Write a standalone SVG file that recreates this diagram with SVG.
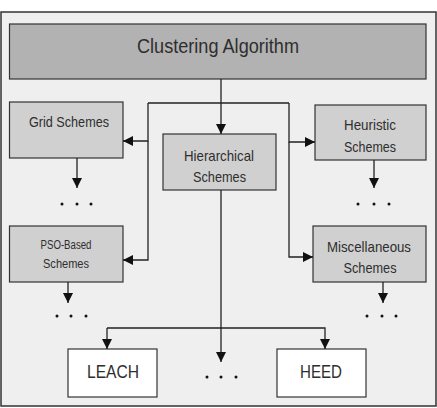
<svg xmlns="http://www.w3.org/2000/svg" width="437" height="408" viewBox="0 0 437 408">
<defs>
<marker id="ah" viewBox="0 0 10 10" refX="10" refY="5" markerWidth="10" markerHeight="10" markerUnits="userSpaceOnUse" orient="auto">
<path d="M0,0 L10,5 L0,10 Z" fill="#111"/>
</marker>
</defs>
<style>
.box{stroke:#333;stroke-width:1.2}
.dark{fill:#b2b2b2}
.mid{fill:#d0d0d0}
.white{fill:#fff}
text{font-family:"Liberation Sans",Arial,sans-serif;fill:#2e2e2e;text-anchor:middle}
.t14{font-size:15px}
.t11{font-size:12px}
.ln{stroke:#222;stroke-width:1.3;fill:none}
.arr{marker-end:url(#ah)}
.dot{fill:#111}
</style>
<rect x="1" y="12" width="435" height="394" fill="#efefef" stroke="#333" stroke-width="1.5"/>
<g id="clustering">
<rect class="box dark" x="9.5" y="24" width="416.5" height="55"/>
<text x="218" y="53" font-size="21" textLength="162" lengthAdjust="spacingAndGlyphs">Clustering Algorithm</text>
</g>
<g id="grid">
<rect class="box mid" x="9.5" y="102" width="113.5" height="56"/>
<text class="t14" x="69" y="127" textLength="80" lengthAdjust="spacingAndGlyphs">Grid Schemes</text>
</g>
<g id="heuristic">
<rect class="box mid" x="315" y="105" width="111" height="55"/>
<text class="t14" x="370" y="130" textLength="52" lengthAdjust="spacingAndGlyphs">Heuristic</text>
<text class="t14" x="370" y="152" textLength="52" lengthAdjust="spacingAndGlyphs">Schemes</text>
</g>
<g id="hierarchical">
<rect class="box mid" x="163" y="134" width="113" height="56"/>
<text class="t14" x="219" y="161" textLength="70" lengthAdjust="spacingAndGlyphs">Hierarchical</text>
<text class="t14" x="219.5" y="182" textLength="53" lengthAdjust="spacingAndGlyphs">Schemes</text>
</g>
<g id="pso">
<rect class="box mid" x="9.5" y="226" width="113.5" height="56"/>
<text class="t11" x="66" y="249" textLength="51" lengthAdjust="spacingAndGlyphs">PSO-Based</text>
<text class="t11" x="66" y="268" textLength="46" lengthAdjust="spacingAndGlyphs">Schemes</text>
</g>
<g id="misc">
<rect class="box mid" x="313" y="226" width="113" height="56"/>
<text class="t14" x="369" y="252" textLength="84" lengthAdjust="spacingAndGlyphs">Miscellaneous</text>
<text class="t14" x="370" y="273" textLength="53" lengthAdjust="spacingAndGlyphs">Schemes</text>
</g>
<g id="leach">
<rect class="box white" x="68" y="349" width="89" height="48"/>
<text x="113" y="378" font-size="19" textLength="52" lengthAdjust="spacingAndGlyphs">LEACH</text>
</g>
<g id="heed">
<rect class="box white" x="277" y="349" width="89" height="48"/>
<text x="321" y="378" font-size="19" textLength="42" lengthAdjust="spacingAndGlyphs">HEED</text>
</g>
<g id="connectors">
<path class="ln arr" d="M221,79 V134"/>
<path class="ln" d="M148,103 H289"/>
<path class="ln arr" d="M148,103 V141 H123"/>
<path class="ln arr" d="M148,141 V260 H123"/>
<path class="ln arr" d="M289,103 V142 H315"/>
<path class="ln arr" d="M289,142 V257 H313"/>
<path class="ln arr" d="M77,158 V188"/>
<path class="ln arr" d="M374,160 V188"/>
<path class="ln arr" d="M68,282 V303"/>
<path class="ln arr" d="M383,282 V303"/>
<path class="ln arr" d="M221,190 V362"/>
<path class="ln arr" d="M107,328 V349"/>
<path class="ln arr" d="M107,328 H325 V349"/>
</g>
<g id="dots">
<circle class="dot" cx="62" cy="204" r="1.5"/><circle class="dot" cx="77" cy="204" r="1.5"/><circle class="dot" cx="91" cy="204" r="1.5"/>
<circle class="dot" cx="358" cy="204" r="1.5"/><circle class="dot" cx="374" cy="204" r="1.5"/><circle class="dot" cx="389" cy="204" r="1.5"/>
<circle class="dot" cx="57" cy="316" r="1.5"/><circle class="dot" cx="71" cy="316" r="1.5"/><circle class="dot" cx="86" cy="316" r="1.5"/>
<circle class="dot" cx="367" cy="316" r="1.5"/><circle class="dot" cx="382" cy="316" r="1.5"/><circle class="dot" cx="396" cy="316" r="1.5"/>
<circle class="dot" cx="207" cy="377" r="1.5"/><circle class="dot" cx="221" cy="377" r="1.5"/><circle class="dot" cx="236" cy="377" r="1.5"/>
</g>
</svg>
